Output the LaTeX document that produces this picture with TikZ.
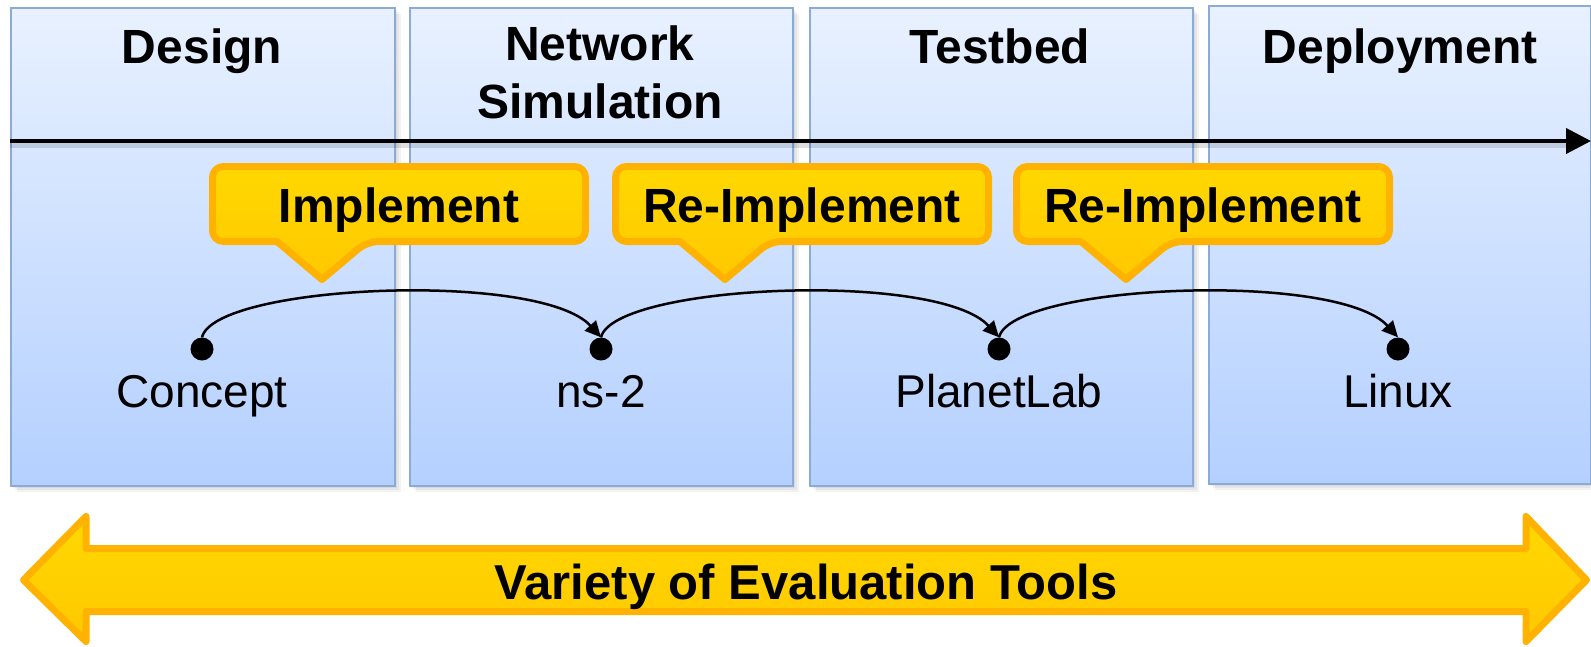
\documentclass[tikz,border=0pt]{standalone}
\usepackage{fontspec}
\setmainfont{Liberation Sans}
\usetikzlibrary{arrows.meta}
\definecolor{panelTop}{RGB}{232,241,255}
\definecolor{panelBot}{RGB}{180,208,255}
\definecolor{panelLine}{RGB}{140,170,214}
\definecolor{calloutTop}{RGB}{255,216,0}
\definecolor{calloutBot}{RGB}{255,200,0}
\definecolor{calloutLine}{RGB}{255,178,0}

\begin{document}
\begin{tikzpicture}[x=1pt,y=-1pt,
  softshadow/.style={preaction={fill=black, fill opacity=0.05,
      transform canvas={xshift=#1, yshift=-#1}}},
  panel/.style={anchor=north west, draw=panelLine, line width=1.5pt,
      top color=panelTop, bottom color=panelBot, inner sep=0pt,
      minimum height=478pt, softshadow=2pt, softshadow=4pt, softshadow=6pt},
  header/.style={font=\fontsize{48}{58}\selectfont\bfseries, anchor=base},
  dot/.style={circle, fill=black, inner sep=0pt, minimum size=23pt},
  lbl/.style={font=\fontsize{46}{55}\selectfont, anchor=base},
  ctext/.style={font=\fontsize{48}{58}\selectfont\bfseries, anchor=base},
  callout/.style={draw=calloutLine, line width=7pt, line join=round,
      top color=calloutTop, bottom color=calloutBot},
  bigarrow/.style={draw=calloutLine, line width=7pt, line join=round,
      top color=calloutTop, bottom color=calloutBot},
  hop/.style={-{Triangle[length=16pt,width=15pt]}, line width=2.5pt},
  timeline/.style={-{Triangle[length=25pt,width=25pt]}, line width=4pt}
]
\useasboundingbox (0,0) rectangle (1591,646);

% stage panels
\node[panel, minimum width=384pt] (p1) at (10,7) {};
\node[panel, minimum width=383pt] (p2) at (409,7) {};
\node[panel, minimum width=383pt] (p3) at (809,7) {};
\node[panel, minimum width=382pt] (p4) at (1208,5) {};

% stage titles
\node[header] (h1) at (202,63) {Design};
\node[header] (h2a) at (600,60) {Network};
\node[header] (h2b) at (600,118) {Simulation};
\node[header] (h3) at (1000,63) {Testbed};
\node[header] (h4) at (1400,63) {Deployment};

% time line with a faint shadow underneath
\coordinate (t0) at (10,141);
\coordinate (t1) at (1591,141);
\coordinate (s0) at (10,145);
\coordinate (s1) at (1566,145);
\draw[black, opacity=0.12, line width=5pt] (s0) -- (s1);
\draw[timeline] (t0) -- (t1);

% speech-bubble callouts
\foreach \L/\n/\txt in {209/c1/Implement, 612/c2/Re-Implement, 1013/c3/Re-Implement}{
  \begin{scope}[shift={(\L,0)}]
    \path[callout] (3.5,204) [rounded corners=11] -- (3.5,166.5) -- (376.5,166.5)
      -- (376.5,241.5) -- (158,241.5) [sharp corners] -- (113,279.5) -- (68,241.5)
      [rounded corners=11] -- (3.5,241.5) -- cycle;
    \node[ctext] (\n) at (190,222) {\txt};
  \end{scope}
}

% tools
\node[dot] (d1) at (202,349) {};
\node[dot] (d2) at (601,349) {};
\node[dot] (d3) at (999,349) {};
\node[dot] (d4) at (1398,349) {};

\node[lbl] (l1) at (202,407) {Concept};
\node[lbl] (l2) at (601,407) {ns-2};
\node[lbl] (l3) at (999,407) {PlanetLab};
\node[lbl] (l4) at (1398,407) {Linux};

% hops between tools
\draw[hop] (d1.north) .. controls +(13,-53) and +(-61,-67) .. (d2.north);
\draw[hop] (d2.north) .. controls +(13,-53) and +(-61,-67) .. (d3.north);
\draw[hop] (d3.north) .. controls +(13,-53) and +(-61,-67) .. (d4.north);

% double-headed band
\path[bigarrow] (23.5,580) -- (86,516.5) -- (86,548.5) -- (1526,548.5)
  -- (1526,516.5) -- (1586.5,580) -- (1526,641.5) -- (1526,611.5)
  -- (86,611.5) -- (86,641.5) -- cycle;
\node[ctext, font=\fontsize{49}{58}\selectfont\bfseries] (band) at (806,599)
  {Variety of Evaluation Tools};
\end{tikzpicture}
\end{document}
